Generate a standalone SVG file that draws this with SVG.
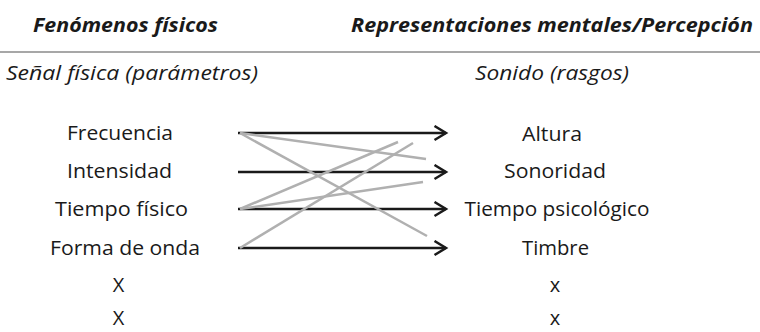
<svg xmlns="http://www.w3.org/2000/svg" width="760" height="332" viewBox="0 0 760 332">
<defs>
<style>
text{font-family:"Open Sans","Noto Sans","DejaVu Sans",sans-serif;fill:#1a1a1a;font-size:20px;text-anchor:middle}
.hdr{font-weight:bold;font-style:italic}
.sub{font-style:italic}
.arrow{stroke:#1a1a1a;stroke-width:2.5;fill:none;marker-end:url(#chev)}
.link{stroke:#b0b0b0;stroke-width:2.5;fill:none}
</style>
<marker id="chev" markerUnits="userSpaceOnUse" markerWidth="16" markerHeight="18" refX="13" refY="8" orient="auto">
<path d="M1.5,1 L13,8 L1.5,15" stroke="#1a1a1a" stroke-width="2.5" fill="none" stroke-linejoin="miter"/>
</marker>
</defs>
<rect width="760" height="332" fill="#ffffff"/>
<g id="headers">
<text class="hdr" x="125.5" y="32" textLength="185" lengthAdjust="spacingAndGlyphs">Fenómenos físicos</text>
<text class="hdr" x="552" y="32" textLength="402" lengthAdjust="spacingAndGlyphs">Representaciones mentales/Percepción</text>
<line x1="0" y1="52" x2="760" y2="52" stroke="#8a8a8a" stroke-width="1.5"/>
<text class="sub" x="132" y="80" textLength="252" lengthAdjust="spacingAndGlyphs">Señal física (parámetros)</text>
<text class="sub" x="552" y="80" textLength="154" lengthAdjust="spacingAndGlyphs">Sonido (rasgos)</text>
</g>
<g id="connectors">
<line class="arrow" x1="238" y1="133" x2="446" y2="133"/>
<line class="arrow" x1="238" y1="172" x2="446" y2="172"/>
<line class="arrow" x1="238" y1="209" x2="446" y2="209"/>
<line class="arrow" x1="238" y1="248" x2="446" y2="248"/>
<line class="link" x1="240" y1="133" x2="426" y2="159"/>
<line class="link" x1="240" y1="133" x2="427" y2="236"/>
<line class="link" x1="240" y1="209" x2="398" y2="142"/>
<line class="link" x1="240" y1="209" x2="423" y2="182"/>
<line class="link" x1="240" y1="248" x2="413" y2="143"/>
</g>
<g id="frecuencia"><text x="120" y="140" textLength="106" lengthAdjust="spacingAndGlyphs">Frecuencia</text></g>
<g id="intensidad"><text x="119.5" y="178" textLength="105" lengthAdjust="spacingAndGlyphs">Intensidad</text></g>
<g id="tiempo-fisico"><text x="121.5" y="216" textLength="133" lengthAdjust="spacingAndGlyphs">Tiempo físico</text></g>
<g id="forma-de-onda"><text x="125" y="255" textLength="150" lengthAdjust="spacingAndGlyphs">Forma de onda</text></g>
<g id="x-left-1"><text x="118.5" y="292">X</text></g>
<g id="x-left-2"><text x="118.5" y="325">X</text></g>
<g id="altura"><text x="552" y="141" textLength="60" lengthAdjust="spacingAndGlyphs">Altura</text></g>
<g id="sonoridad"><text x="555" y="178" textLength="102" lengthAdjust="spacingAndGlyphs">Sonoridad</text></g>
<g id="tiempo-psicologico"><text x="557" y="216" textLength="185" lengthAdjust="spacingAndGlyphs">Tiempo psicológico</text></g>
<g id="timbre"><text x="555.5" y="255" textLength="67" lengthAdjust="spacingAndGlyphs">Timbre</text></g>
<g id="x-right-1"><text x="555" y="292">x</text></g>
<g id="x-right-2"><text x="555" y="325">x</text></g>
</svg>
